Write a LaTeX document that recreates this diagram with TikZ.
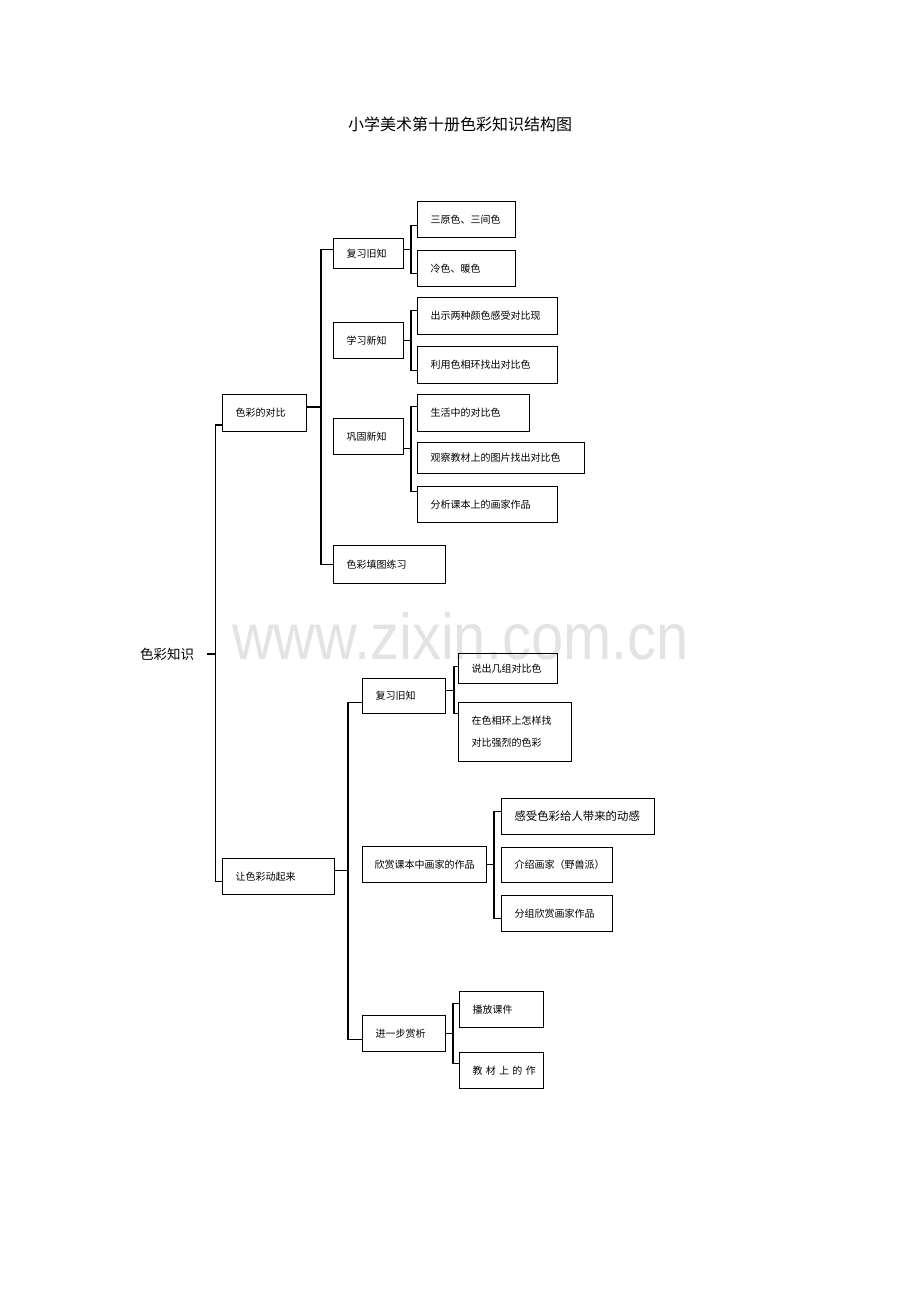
\documentclass[tikz,border=0pt]{standalone}
\usepackage{fontspec}
\setmainfont{Noto Sans CJK SC}
\newfontfamily\markfont{Liberation Sans}
\usetikzlibrary{calc}

\begin{document}
\begin{tikzpicture}[
		x=1pt, y=-1pt,
		every node/.style={inner sep=0pt},
		box/.style={draw, line width=1pt, anchor=north west, inner xsep=13pt, inner ysep=0pt,
			align=left, font=\fontsize{10}{12}\selectfont},
		link/.style={line width=1.2pt},
		trunk/.style={line width=1.8pt},
		watermark/.style={anchor=base west, text depth=0pt, text=black!11, font=\markfont\fontsize{65}{70}\selectfont}
	]
	\useasboundingbox (0,0) rectangle (920,1302);
	
	\node(wm)[watermark] at (232,659) {\scalebox{0.89}[1]{www.zixin.com.cn}};
	
	\node(title)[font=\fontsize{16}{19}\selectfont] at (460,124) {小学美术第十册色彩知识结构图};
	\node(root)[anchor=west, font=\fontsize{13.5}{16}\selectfont] at (140,654) {色彩知识};
	
	% first branch
	\node(duibi)[box, text width=58pt, minimum height=37pt] at (222,394) {色彩的对比};
	\node(fuxiA)[box, text width=44pt, minimum height=30pt] at (333,238) {复习旧知};
	\node(xuexi)[box, text width=44pt, minimum height=36pt] at (333,322) {学习新知};
	\node(gonggu)[box, text width=44pt, minimum height=36pt] at (333,418) {巩固新知};
	\node(tiantu)[box, text width=86pt, minimum height=38pt] at (333,545) {色彩填图练习};
	
	\node(sanyuan)[box, text width=72pt, minimum height=36pt] at (417,201) {三原色、三间色};
	\node(lengse)[box, text width=72pt, minimum height=36pt] at (417,250) {冷色、暖色};
	\node(chushi)[box, text width=114pt, minimum height=37pt] at (417,297) {出示两种颜色感受对比现};
	\node(liyong)[box, text width=114pt, minimum height=37pt] at (417,346) {利用色相环找出对比色};
	\node(shenghuo)[box, text width=86pt, minimum height=37pt] at (417,394) {生活中的对比色};
	\node(guancha)[box, text width=141pt, minimum height=31pt] at (417,442) {观察教材上的图片找出对比色};
	\node(fenxi)[box, text width=114pt, minimum height=36pt] at (417,486) {分析课本上的画家作品};
	
	% second branch
	\node(dong)[box, text width=86pt, minimum height=36pt] at (222,858) {让色彩动起来};
	\node(fuxiB)[box, text width=57pt, minimum height=35pt] at (362,678) {复习旧知};
	\node(xinshang)[box, text width=100pt, inner xsep=12pt, minimum height=36pt] at (362,846) {欣赏课本中画家的作品};
	\node(jinyibu)[box, text width=57pt, minimum height=36pt] at (362,1015) {进一步赏析};
	
	\node(shuochu)[box, text width=73pt, minimum height=30pt] at (458,653) {说出几组对比色};
	\node(zaise)[box, text width=87pt, minimum height=59pt, font=\fontsize{10}{22}\selectfont] at (458,702) {在色相环上怎样找\\对比强烈的色彩};
	\node(ganshou)[box, text width=127pt, minimum height=36pt, font=\fontsize{11.4}{13}\selectfont] at (501,798) {感受色彩给人带来的动感};
	\node(jieshao)[box, text width=85pt, minimum height=35pt] at (501,847) {介绍画家（野兽派）};
	\node(fenzu)[box, text width=85pt, minimum height=36pt] at (501,895) {分组欣赏画家作品};
	\node(bofang)[box, text width=58pt, minimum height=36pt] at (459,991) {播放课件};
	\node(jiaocai)[box, text width=58pt, minimum height=36pt] at (459,1052) {教~材~上~的~作};
	
	% brackets
	\draw[link] ([xshift=13pt]root.east) -- ++(8,0) coordinate (k0);
	\draw[link] ([yshift=-12pt]duibi.west) -| (k0) |- ([yshift=-5pt]dong.west);
	
	\draw[trunk] ([yshift=6pt]duibi.east) -- ++(14,0) coordinate (k1);
	\draw[trunk] ([yshift=4pt]fuxiA.west) -| (k1) |- (tiantu.west);
	
	\draw[link] ([yshift=4pt]fuxiA.east) -- ++(7,0) coordinate (k2);
	\draw[link] ([yshift=-6pt]sanyuan.west) -| (k2) |- ([yshift=-5pt]lengse.west);
	\draw[link] (xuexi.east) -- ++(7,0) coordinate (k3);
	\draw[link] ([yshift=5.5pt]chushi.west) -| (k3) |- ([yshift=-5.5pt]liyong.west);
	\draw[link] ([yshift=-12pt]gonggu.east) -- ++(7,0) coordinate (k4);
	\draw[link] ([yshift=6.5pt]shenghuo.west) -| (k4) |- ([yshift=13pt]fenxi.west);
	
	\draw[link] ([yshift=6pt]dong.east) -- ++(13,0) coordinate (k5);
	\draw[link] ([yshift=-6.5pt]fuxiB.west) -| (k5) |- ([yshift=-6pt]jinyibu.west);
	
	\draw[link] ([yshift=5.5pt]fuxiB.east) -- ++(8,0) coordinate (k6);
	\draw[link] ([yshift=2pt]shuochu.west) -| (k6) |- ([yshift=18.5pt]zaise.west);
	\draw[link] (xinshang.east) -- ++(7,0) coordinate (k7);
	\draw[link] ([yshift=5pt]ganshou.west) -| (k7) |- ([yshift=-5pt]fenzu.west);
	\draw[link] (jinyibu.east) -- ++(7,0) coordinate (k8);
	\draw[link] ([yshift=6pt]bofang.west) -| (k8) |- ([yshift=7pt]jiaocai.west);
	
\end{tikzpicture}
\end{document}
